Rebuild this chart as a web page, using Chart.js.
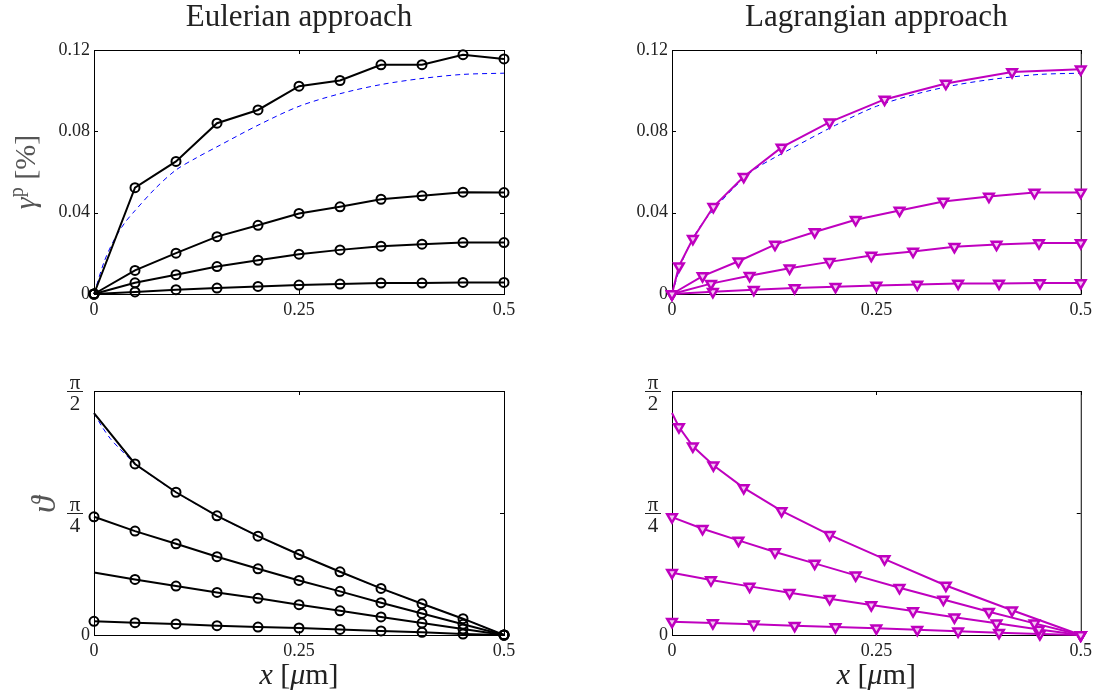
<!DOCTYPE html>
<html>
<head>
<meta charset="utf-8">
<script src="https://cdn.jsdelivr.net/npm/chart.js@4.4.1/dist/chart.umd.min.js"></script>
<style>
  body { margin: 0; background: #fff; }
  canvas { position: absolute; left: 0; top: 0; }
</style>
</head>
<body>
<canvas id="eulGamma" width="1097" height="698"></canvas>
<canvas id="lagGamma" width="1097" height="698"></canvas>
<canvas id="eulTheta" width="1097" height="698"></canvas>
<canvas id="lagTheta" width="1097" height="698"></canvas>
<script>
// x positions of the nodes
const xEuler = [0, 0.05, 0.1, 0.15, 0.2, 0.25, 0.3, 0.35, 0.4, 0.45, 0.5];
const xLagr1 = [0, 0.0085, 0.0255, 0.0506, 0.0877, 0.134, 0.1928, 0.26, 0.335, 0.416, 0.5];
const xLagr2 = [0, 0.0374, 0.0813, 0.126, 0.1745, 0.2247, 0.2783, 0.3319, 0.3877, 0.4434, 0.5];
const xLagr3 = [0, 0.0477, 0.0949, 0.1438, 0.1928, 0.2438, 0.2949, 0.3455, 0.397, 0.4489, 0.5];
const xLagr4 = [0, 0.05, 0.1, 0.15, 0.2, 0.25, 0.3, 0.35, 0.4, 0.45, 0.5];

// plastic slip gamma^p [%]
const gammaEuler1 = [0, 0.0523, 0.0652, 0.0840, 0.0905, 0.1022, 0.1050, 0.1127, 0.1128, 0.1177, 0.1156];
const gammaEuler2 = [0, 0.0116, 0.0201, 0.0282, 0.0338, 0.0396, 0.0429, 0.0466, 0.0483, 0.0501, 0.0499];
const gammaEuler3 = [0, 0.0055, 0.0095, 0.0135, 0.0166, 0.0196, 0.0217, 0.0235, 0.0245, 0.0253, 0.0253];
const gammaEuler4 = [0, 0.0010, 0.0021, 0.0029, 0.0037, 0.0044, 0.0049, 0.0054, 0.0054, 0.0057, 0.0057];

const gammaLagr1 = [0, 0.0137, 0.0272, 0.0429, 0.0577, 0.0721, 0.0845, 0.0957, 0.1035, 0.1092, 0.1105];
const gammaLagr2 = [0, 0.0088, 0.0161, 0.0243, 0.0305, 0.0365, 0.0411, 0.0455, 0.0479, 0.0499, 0.0499];
const gammaLagr3 = [0, 0.0051, 0.0090, 0.0127, 0.0158, 0.0189, 0.0209, 0.0232, 0.0243, 0.0251, 0.0251];
const gammaLagr4 = [0, 0.0011, 0.0021, 0.0029, 0.0036, 0.0042, 0.0047, 0.0052, 0.0052, 0.0054, 0.0054];

// lattice rotation theta [rad]
const thetaEuler1 = [1.429, 1.101, 0.919, 0.767, 0.636, 0.518, 0.407, 0.300, 0.201, 0.105, 0];
const thetaEuler2 = [0.761, 0.669, 0.587, 0.504, 0.426, 0.351, 0.281, 0.208, 0.139, 0.069, 0];
const thetaEuler3 = [0.403, 0.358, 0.315, 0.274, 0.236, 0.195, 0.156, 0.116, 0.077, 0.039, 0];
const thetaEuler4 = [0.088, 0.079, 0.071, 0.060, 0.051, 0.045, 0.036, 0.026, 0.017, 0.006, 0];

const thetaLagr1 = [1.429, 1.339, 1.215, 1.093, 0.947, 0.799, 0.645, 0.489, 0.319, 0.159, 0];
const thetaLagr2 = [0.759, 0.684, 0.609, 0.534, 0.461, 0.384, 0.304, 0.229, 0.150, 0.075, 0];
const thetaLagr3 = [0.401, 0.354, 0.313, 0.272, 0.234, 0.193, 0.154, 0.114, 0.075, 0.036, 0];
const thetaLagr4 = [0.086, 0.077, 0.069, 0.060, 0.051, 0.043, 0.034, 0.024, 0.015, 0.006, 0];

// reference (analytical) solution, blue dashed
const xRefGamma = [0, 0.0125, 0.025, 0.0375, 0.05, 0.075, 0.1, 0.125, 0.15, 0.2, 0.25, 0.3, 0.35, 0.4, 0.45, 0.5];
const gammaRef = [0, 0.016, 0.027, 0.035, 0.041, 0.052, 0.061, 0.067, 0.0724, 0.083, 0.0923, 0.0985, 0.103, 0.106, 0.108, 0.1086];
const xRefTheta = [0, 0.01, 0.02, 0.03, 0.04, 0.05, 0.075, 0.1, 0.15, 0.2, 0.25, 0.3, 0.35, 0.4, 0.45, 0.5];
const thetaRef = [1.429, 1.339, 1.264, 1.206, 1.153, 1.101, 1.007, 0.919, 0.767, 0.636, 0.518, 0.407, 0.300, 0.201, 0.105, 0];

// ticks
const xTicks = [0, 0.25, 0.5];
const gammaTicks = [0, 0.04, 0.08, 0.12];
const thetaTicks = [0, Math.PI / 4, Math.PI / 2];
const thetaTickDen = ["", "4", "2"];

const SERIF = "'Liberation Serif', 'Times New Roman', serif";
const MAGENTA = "#bf00bf";

function pts(xs, ys) {
  return xs.map((x, i) => ({ x: x, y: ys[i] }));
}

// MATLAB style box, inward ticks, titles and axis labels
const matlabAxes = {
  id: "matlabAxes",
  beforeDatasetsDraw(chart, args, o) {
    const { ctx, chartArea: a, scales } = chart;
    ctx.save();
    ctx.strokeStyle = "#000";
    ctx.lineWidth = 1;
    ctx.strokeRect(a.left + 0.5, a.top + 0.5, a.right - a.left, a.bottom - a.top);
    ctx.beginPath();
    scales.x.ticks.forEach(t => {
      const px = Math.round(scales.x.getPixelForValue(t.value)) + 0.5;
      ctx.moveTo(px, a.bottom); ctx.lineTo(px, a.bottom - 4);
      ctx.moveTo(px, a.top); ctx.lineTo(px, a.top + 4);
    });
    scales.y.ticks.forEach(t => {
      const py = Math.round(scales.y.getPixelForValue(t.value)) + 0.5;
      ctx.moveTo(a.left, py); ctx.lineTo(a.left + 4, py);
      ctx.moveTo(a.right, py); ctx.lineTo(a.right - 4, py);
    });
    ctx.stroke();
    ctx.restore();
  },
  afterDraw(chart, args, o) {
    const { ctx, chartArea: a, scales } = chart;
    const cx = (a.left + a.right) / 2;
    const cy = (a.top + a.bottom) / 2;
    ctx.save();
    ctx.fillStyle = "#222";
    ctx.textBaseline = "middle";
    ctx.textAlign = "center";
    if (o.title) {
      ctx.font = "31px " + SERIF;
      ctx.fillText(o.title, cx, 18);
    }
    if (o.xLabel) {
      // x [μm]
      const parts = [["x", "italic 30px "], [" [", "30px "], ["μ", "italic 30px "], ["m]", "30px "]];
      let w = 0;
      parts.forEach(p => { ctx.font = p[1] + SERIF; w += ctx.measureText(p[0]).width; });
      let x = cx - w / 2;
      ctx.textAlign = "left";
      parts.forEach(p => {
        ctx.font = p[1] + SERIF;
        ctx.fillText(p[0], x, 676);
        x += ctx.measureText(p[0]).width;
      });
    }
    if (o.yLabel === "gamma") {
      ctx.save();
      ctx.translate(27, cy);
      ctx.rotate(-Math.PI / 2);
      ctx.fillStyle = "#555";
      const parts = [["γ", "italic 30px ", 0], ["p", "20px ", -9], [" [%]", "30px ", 0]];
      let w = 0;
      parts.forEach(p => { ctx.font = p[1] + SERIF; w += ctx.measureText(p[0]).width; });
      let x = -w / 2;
      ctx.textAlign = "left";
      parts.forEach(p => {
        ctx.font = p[1] + SERIF;
        ctx.fillText(p[0], x, p[2]);
        x += ctx.measureText(p[0]).width;
      });
      ctx.restore();
    }
    if (o.yLabel === "theta") {
      ctx.save();
      ctx.translate(46, cy);
      ctx.rotate(-Math.PI / 2);
      ctx.fillStyle = "#555";
      ctx.font = "italic 34px " + SERIF;
      ctx.fillText("ϑ", 0, 0);
      ctx.restore();
    }
    if (o.fractions) {
      // π/4 and π/2 tick labels
      scales.y.ticks.forEach((t, i) => {
        const den = thetaTickDen[i];
        if (!den) return;
        const py = Math.round(scales.y.getPixelForValue(t.value)) + 0.5;
        const fx = a.left - 19;
        ctx.font = "21px " + SERIF;
        ctx.fillStyle = "#222";
        ctx.textAlign = "center";
        ctx.textBaseline = "alphabetic";
        ctx.fillText("π", fx, py - 3);
        ctx.textBaseline = "top";
        ctx.fillText(den, fx, py + 2);
        ctx.strokeStyle = "#222";
        ctx.lineWidth = 1;
        ctx.beginPath();
        ctx.moveTo(fx - 8, py); ctx.lineTo(fx + 8, py);
        ctx.stroke();
      });
    }
    ctx.restore();
  }
};
Chart.register(matlabAxes);

function curve(xs, ys, color, style, hideFirst) {
  const r = ys.map((v, i) => (hideFirst && i === 0 ? 0 : (style === "circle" ? 4.5 : 5.5)));
  return {
    data: pts(xs, ys),
    borderColor: color,
    borderWidth: 2,
    pointStyle: style,
    rotation: style === "triangle" ? 180 : 0,
    pointRadius: r,
    pointBorderColor: color,
    pointBorderWidth: style === "triangle" ? 2.5 : 2,
    pointBackgroundColor: style === "triangle" ? "#f3c8f3" : "rgba(0,0,0,0)",
    tension: 0,
    clip: false
  };
}

function refCurve(xs, ys) {
  return {
    data: pts(xs, ys),
    borderColor: "#0000ff",
    borderWidth: 1,
    borderDash: [5, 4],
    pointRadius: 0,
    tension: 0.3,
    clip: false
  };
}

function makePanel(id, box, datasets, yMax, yTicks, yLabelFmt, axesOpts) {
  new Chart(document.getElementById(id), {
    type: "line",
    data: { datasets: datasets },
    options: {
      responsive: false,
      animation: false,
      events: [],
      layout: { padding: { left: 0, top: box.top, right: 1097 - box.right, bottom: 0 } },
      plugins: { legend: { display: false }, tooltip: { enabled: false }, matlabAxes: axesOpts },
      scales: {
        x: {
          type: "linear", min: 0, max: 0.5,
          afterBuildTicks: s => { s.ticks = xTicks.map(v => ({ value: v })); },
          afterFit: s => { s.height = 698 - box.bottom; },
          grid: { display: false, drawTicks: false },
          border: { display: false },
          ticks: {
            padding: 5, autoSkip: false, maxRotation: 0, color: "#222",
            font: { family: SERIF, size: 18 },
            callback: v => String(v)
          }
        },
        y: {
          type: "linear", min: 0, max: yMax,
          afterBuildTicks: s => { s.ticks = yTicks.map(v => ({ value: v })); },
          afterFit: s => { s.width = box.left; },
          grid: { display: false, drawTicks: false },
          border: { display: false },
          ticks: {
            padding: 4, autoSkip: false, color: "#222",
            font: { family: SERIF, size: 18 },
            callback: yLabelFmt
          }
        }
      }
    }
  });
}

const topLeft = { left: 94, top: 50, right: 504, bottom: 294 };
const topRight = { left: 672, top: 50, right: 1081, bottom: 294 };
const botLeft = { left: 94, top: 391, right: 504, bottom: 635 };
const botRight = { left: 672, top: 391, right: 1081, bottom: 635 };

const gammaFmt = v => (v === 0 ? "0" : v.toFixed(2));
const thetaFmt = v => (v === 0 ? "0" : "");

makePanel("eulGamma", topLeft, [
  curve(xEuler, gammaEuler1, "#000", "circle"),
  curve(xEuler, gammaEuler2, "#000", "circle"),
  curve(xEuler, gammaEuler3, "#000", "circle"),
  curve(xEuler, gammaEuler4, "#000", "circle"),
  refCurve(xRefGamma, gammaRef)
], 0.12, gammaTicks, gammaFmt, { title: "Eulerian approach", yLabel: "gamma" });

makePanel("lagGamma", topRight, [
  curve(xLagr1, gammaLagr1, MAGENTA, "triangle"),
  curve(xLagr2, gammaLagr2, MAGENTA, "triangle"),
  curve(xLagr3, gammaLagr3, MAGENTA, "triangle"),
  curve(xLagr4, gammaLagr4, MAGENTA, "triangle"),
  refCurve(xRefGamma, gammaRef)
], 0.12, gammaTicks, gammaFmt, { title: "Lagrangian approach" });

makePanel("eulTheta", botLeft, [
  curve(xEuler, thetaEuler1, "#000", "circle", true),
  curve(xEuler, thetaEuler2, "#000", "circle"),
  curve(xEuler, thetaEuler3, "#000", "circle", true),
  curve(xEuler, thetaEuler4, "#000", "circle"),
  refCurve(xRefTheta, thetaRef)
], Math.PI / 2, thetaTicks, thetaFmt, { yLabel: "theta", xLabel: true, fractions: true });

makePanel("lagTheta", botRight, [
  curve(xLagr1, thetaLagr1, MAGENTA, "triangle", true),
  curve(xLagr2, thetaLagr2, MAGENTA, "triangle"),
  curve(xLagr3, thetaLagr3, MAGENTA, "triangle"),
  curve(xLagr4, thetaLagr4, MAGENTA, "triangle")
], Math.PI / 2, thetaTicks, thetaFmt, { xLabel: true, fractions: true });
</script>
</body>
</html>
